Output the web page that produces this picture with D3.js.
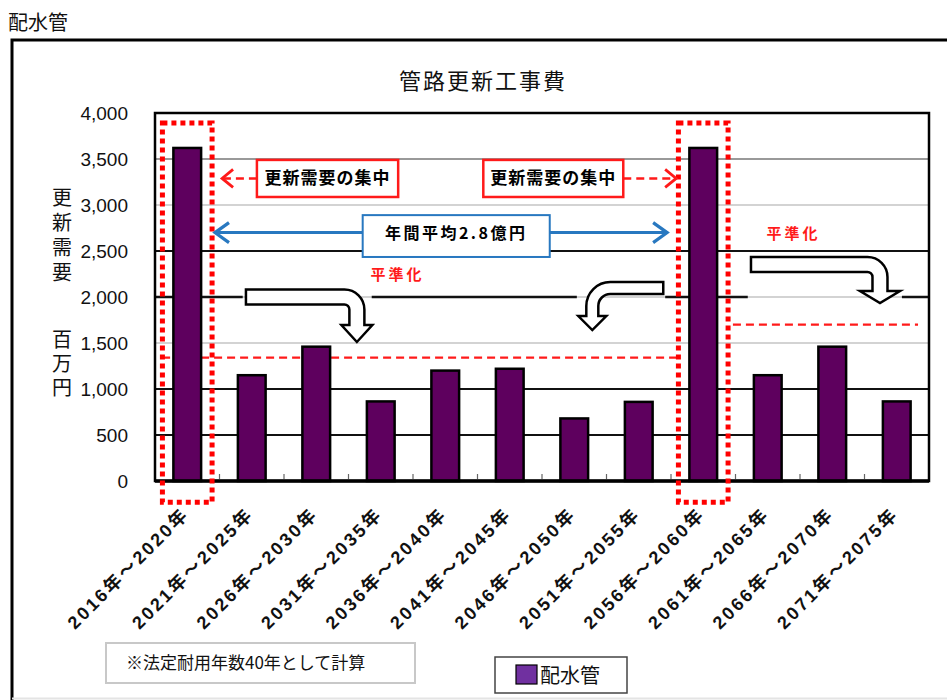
<!DOCTYPE html>
<html lang="ja">
<head>
<meta charset="utf-8">
<script src="https://cdn.jsdelivr.net/npm/d3@7"></script>
<style>
  html, body { margin: 0; padding: 0; background: #fff; }
  svg { display: block; }
</style>
</head>
<body>
<svg id="chart" width="947" height="700"></svg>
<script>
// ---- data -------------------------------------------------------------
const categories = [
  "2016年～2020年", "2021年～2025年", "2026年～2030年", "2031年～2035年",
  "2036年～2040年", "2041年～2045年", "2046年～2050年", "2051年～2055年",
  "2056年～2060年", "2061年～2065年", "2066年～2070年", "2071年～2075年"
];
// 更新需要（百万円）
const renewalCost = [3620, 1150, 1460, 865, 1200, 1220, 680, 860, 3620, 1150, 1460, 865];
const yTicks = [0, 500, 1000, 1500, 2000, 2500, 3000, 3500, 4000];
const darkGridValues = [500, 1000, 2500];
const midGridValues = [3500];
const peakIndexes = [0, 8];                 // 更新需要の集中
const levelledLines = [                     // 平準化後の水準（百万円）
  { from: 0.11, to: 8.14, value: 1340 },
  { from: 8.96, to: 11.83, value: 1700 }
];
const levelLine2000 = [[0, 1.36], [3.36, 6.54], [7.91, 9.19], [11.58, 12]];

const chartTitle = "管路更新工事費";
const pageTitle = "配水管";
const seriesName = "配水管";
const footnote = "※法定耐用年数40年として計算";
const yTitleTop = "更新需要";
const yTitleBottom = "百万円";

// ---- layout -----------------------------------------------------------
const svg = d3.select("#chart");
const plot = { left: 155, right: 929, top: 113, bottom: 481 };
const JP = "'Noto Sans CJK JP', sans-serif";
const NUM = "'Liberation Sans', 'Noto Sans CJK JP', sans-serif";
const RED = "#ff1a1a";
const BLUE = "#2878c0";

const x = d3.scaleBand()
  .domain(categories)
  .range([plot.left, plot.right])
  .paddingInner(0.57)
  .paddingOuter(0.285);
const xi = d3.scaleLinear().domain([0, categories.length]).range([plot.left, plot.right]);
const y = d3.scaleLinear().domain([0, 4000]).range([plot.bottom, plot.top]);

// outer frame
svg.append("path")
  .attr("d", `M12,700 V40 H947`)
  .attr("fill", "none").attr("stroke", "#000").attr("stroke-width", 3);
svg.append("line")
  .attr("x1", 12).attr("x2", 947).attr("y1", 698.5).attr("y2", 698.5)
  .attr("stroke", "#e4e4e4").attr("stroke-width", 2);

svg.append("text")
  .attr("x", 8).attr("y", 30)
  .attr("font-family", JP).attr("font-size", 20).attr("fill", "#111")
  .text(pageTitle);

svg.append("text")
  .attr("x", 483).attr("y", 89)
  .attr("text-anchor", "middle")
  .attr("font-family", JP).attr("font-size", 22).attr("letter-spacing", 2)
  .attr("fill", "#111")
  .text(chartTitle);

// gridlines
const grid = svg.append("g");
grid.selectAll("line.g")
  .data(yTicks.filter(v => v > 0 && v < 4000))
  .join("line")
  .attr("x1", plot.left).attr("x2", plot.right)
  .attr("y1", d => y(d)).attr("y2", d => y(d))
  .attr("stroke", d => darkGridValues.includes(d) ? "#111" : midGridValues.includes(d) ? "#777" : "#c4c4c4")
  .attr("stroke-width", d => darkGridValues.includes(d) ? 2 : 1.5);
grid.selectAll("line.l2000")
  .data(levelLine2000)
  .join("line")
  .attr("x1", d => xi(d[0])).attr("x2", d => xi(d[1]))
  .attr("y1", y(2000)).attr("y2", y(2000))
  .attr("stroke", "#111").attr("stroke-width", 2.5);

// y axis labels
svg.append("g")
  .selectAll("text")
  .data(yTicks)
  .join("text")
  .attr("x", 128).attr("y", d => y(d) + 7)
  .attr("text-anchor", "end")
  .attr("font-family", NUM).attr("font-size", 19).attr("fill", "#111")
  .text(d => d3.format(",")(d));

// y axis title (vertical writing)
const yt = svg.append("g").attr("font-family", JP).attr("font-size", 20).attr("fill", "#111")
  .style("writing-mode", "vertical-rl").attr("letter-spacing", 5);
yt.append("text").attr("x", 62).attr("y", 187).text(yTitleTop);
yt.append("text").attr("x", 62).attr("y", 329).attr("letter-spacing", 4).text(yTitleBottom);

// levelled (dashed) lines
svg.append("g").selectAll("line")
  .data(levelledLines)
  .join("line")
  .attr("x1", d => xi(d.from)).attr("x2", d => xi(d.to))
  .attr("y1", d => y(d.value)).attr("y2", d => y(d.value))
  .attr("stroke", RED).attr("stroke-width", 2.2).attr("stroke-dasharray", "8 5");

// bars
svg.append("g").selectAll("rect")
  .data(renewalCost)
  .join("rect")
  .attr("x", (d, i) => x(categories[i]))
  .attr("width", x.bandwidth())
  .attr("y", d => y(d))
  .attr("height", d => y(0) - y(d))
  .attr("fill", "#5e005e")
  .attr("stroke", "#000").attr("stroke-width", 2.5);

// plot frame
svg.append("rect")
  .attr("x", plot.left).attr("y", plot.top)
  .attr("width", plot.right - plot.left).attr("height", plot.bottom - plot.top)
  .attr("fill", "none").attr("stroke", "#000").attr("stroke-width", 2.5);
svg.append("line")
  .attr("x1", plot.left).attr("x2", plot.right)
  .attr("y1", plot.bottom).attr("y2", plot.bottom)
  .attr("stroke", "#000").attr("stroke-width", 3.5);
svg.append("g").selectAll("line")
  .data(d3.range(1, categories.length))
  .join("line")
  .attr("x1", d => xi(d)).attr("x2", d => xi(d))
  .attr("y1", plot.bottom - 2).attr("y2", plot.bottom - 7)
  .attr("stroke", "#666").attr("stroke-width", 1.2);

// x axis labels
svg.append("g").selectAll("text")
  .data(categories)
  .join("text")
  .attr("transform", d => `translate(${x(d) + x.bandwidth() / 2 + 1},${plot.bottom + 36}) rotate(-45)`)
  .attr("text-anchor", "end")
  .attr("font-family", NUM).attr("font-weight", "bold").attr("font-size", 18)
  .attr("fill", "#111")
  .attr("textLength", 160).attr("lengthAdjust", "spacing")
  .text(d => d);

// concentration frames (red dotted)
svg.append("g").selectAll("rect")
  .data(peakIndexes)
  .join("rect")
  .attr("x", i => xi(i + 0.5 - 0.385))
  .attr("width", xi(0.77) - xi(0))
  .attr("y", y(3890))
  .attr("height", y(-230) - y(3890))
  .attr("fill", "none")
  .attr("stroke", "#ff0000").attr("stroke-width", 5).attr("stroke-dasharray", "5 4");

// 更新需要の集中 labels with dashed pointers
const focusLabels = [
  { x0: 1.58, x1: 3.77, tip: 1.04, side: "left" },
  { x0: 5.09, x1: 7.26, tip: 8.08, side: "right" }
];
const fl = svg.append("g");
focusLabels.forEach(f => {
  const top = y(3490), bot = y(3087), mid = (top + bot) / 2;
  fl.append("rect")
    .attr("x", xi(f.x0)).attr("y", top)
    .attr("width", xi(f.x1) - xi(f.x0)).attr("height", bot - top)
    .attr("fill", "#fff").attr("stroke", RED).attr("stroke-width", 2.5);
  fl.append("text")
    .attr("x", (xi(f.x0) + xi(f.x1)) / 2).attr("y", mid + 6)
    .attr("text-anchor", "middle")
    .attr("font-family", JP).attr("font-weight", "bold").attr("font-size", 17)
    .attr("letter-spacing", 1).attr("fill", "#000")
    .text("更新需要の集中");
  const start = f.side === "left" ? xi(f.x0) : xi(f.x1);
  const tip = xi(f.tip);
  const dir = Math.sign(tip - start);
  fl.append("line")
    .attr("x1", start).attr("x2", tip - dir * 2)
    .attr("y1", mid).attr("y2", mid)
    .attr("stroke", RED).attr("stroke-width", 2.5).attr("stroke-dasharray", "8 5");
  fl.append("path")
    .attr("d", `M${tip - dir * 11},${mid - 9} L${tip},${mid} L${tip - dir * 11},${mid + 9}`)
    .attr("fill", "none").attr("stroke", RED).attr("stroke-width", 2.8);
});

// 年間平均 double arrow
const avgY = y(2700);
const ax0 = xi(0.93), ax1 = xi(7.94);
const ag = svg.append("g");
ag.append("line")
  .attr("x1", ax0 + 2).attr("x2", ax1 - 2).attr("y1", avgY).attr("y2", avgY)
  .attr("stroke", BLUE).attr("stroke-width", 3);
[[ax0, 1], [ax1, -1]].forEach(([t, d]) => {
  ag.append("path")
    .attr("d", `M${t + d * 14},${avgY - 10} L${t},${avgY} L${t + d * 14},${avgY + 10}`)
    .attr("fill", "none").attr("stroke", BLUE).attr("stroke-width", 3.2);
});
ag.append("rect")
  .attr("x", xi(3.22)).attr("y", y(2890))
  .attr("width", xi(6.12) - xi(3.22)).attr("height", y(2435) - y(2890))
  .attr("fill", "#fff").attr("stroke", BLUE).attr("stroke-width", 2);
ag.append("text")
  .attr("x", (xi(3.22) + xi(6.12)) / 2).attr("y", avgY + 6)
  .attr("text-anchor", "middle")
  .attr("font-family", JP).attr("font-weight", "bold").attr("font-size", 16)
  .attr("letter-spacing", 2.5).attr("fill", "#000")
  .text("年間平均2.8億円");

// 平準化 labels
const levelLabels = [
  { at: 3.76, value: 2180 },
  { at: 9.9, value: 2630 }
];
svg.append("g").selectAll("text")
  .data(levelLabels)
  .join("text")
  .attr("x", d => xi(d.at)).attr("y", d => y(d.value))
  .attr("text-anchor", "middle")
  .attr("font-family", JP).attr("font-weight", "bold").attr("font-size", 15)
  .attr("letter-spacing", 3).attr("fill", RED)
  .text("平準化");

// hollow bent arrows: horizontal shaft, then a bend down to the new level
const bentArrows = [
  { from: 1.41, bend: 3.13, level: 2000, tipValue: 1511, w: 15, headW: 31, headL: 17, r: 20 },
  { from: 7.88, bend: 6.78, level: 2098, tipValue: 1641, w: 12, headW: 28, headL: 14, r: 24 },
  { from: 9.24, bend: 11.24, level: 2353, tipValue: 1935, w: 15, headW: 40, headL: 12, r: 20 }
];
function bentArrowPath(L, drop, w, headW, headL, R) {
  const ri = Math.max(R - w, 0.01);
  return [
    `M0,${-w / 2}`,
    `H${L + w / 2 - R}`,
    `A${R},${R} 0 0 1 ${L + w / 2},${-w / 2 + R}`,
    `V${drop - headL}`,
    `H${L + headW / 2}`,
    `L${L},${drop}`,
    `L${L - headW / 2},${drop - headL}`,
    `H${L - w / 2}`,
    `V${w / 2 + ri}`,
    `A${ri},${ri} 0 0 0 ${L - w / 2 - ri},${w / 2}`,
    `H0 Z`
  ].join(" ");
}
svg.append("g").selectAll("path")
  .data(bentArrows)
  .join("path")
  .attr("transform", d => {
    const dir = Math.sign(d.bend - d.from);
    return `translate(${xi(d.from)},${y(d.level)}) scale(${dir},1)`;
  })
  .attr("d", d => bentArrowPath(Math.abs(xi(d.bend) - xi(d.from)), y(d.tipValue) - y(d.level),
    d.w, d.headW, d.headL, d.r))
  .attr("fill", "#fff").attr("stroke", "#000").attr("stroke-width", 2.5)
  .attr("stroke-linejoin", "miter");

// footnote box
svg.append("rect")
  .attr("x", 106).attr("y", 643).attr("width", 309).attr("height", 40)
  .attr("fill", "#fff").attr("stroke", "#c8c8c8").attr("stroke-width", 2);
svg.append("text")
  .attr("x", 126).attr("y", 669)
  .attr("font-family", JP).attr("font-size", 17).attr("fill", "#111")
  .text(footnote);

// legend
const lg = svg.append("g");
lg.append("rect")
  .attr("x", 495).attr("y", 657).attr("width", 132).attr("height", 36)
  .attr("fill", "#fff").attr("stroke", "#444").attr("stroke-width", 1.5);
lg.append("rect")
  .attr("x", 516).attr("y", 665).attr("width", 21).attr("height", 19)
  .attr("fill", "#7030a0").attr("stroke", "#000").attr("stroke-width", 1.2);
lg.append("text")
  .attr("x", 540).attr("y", 683)
  .attr("font-family", JP).attr("font-size", 20).attr("fill", "#111")
  .text(seriesName);
</script>
</body>
</html>
